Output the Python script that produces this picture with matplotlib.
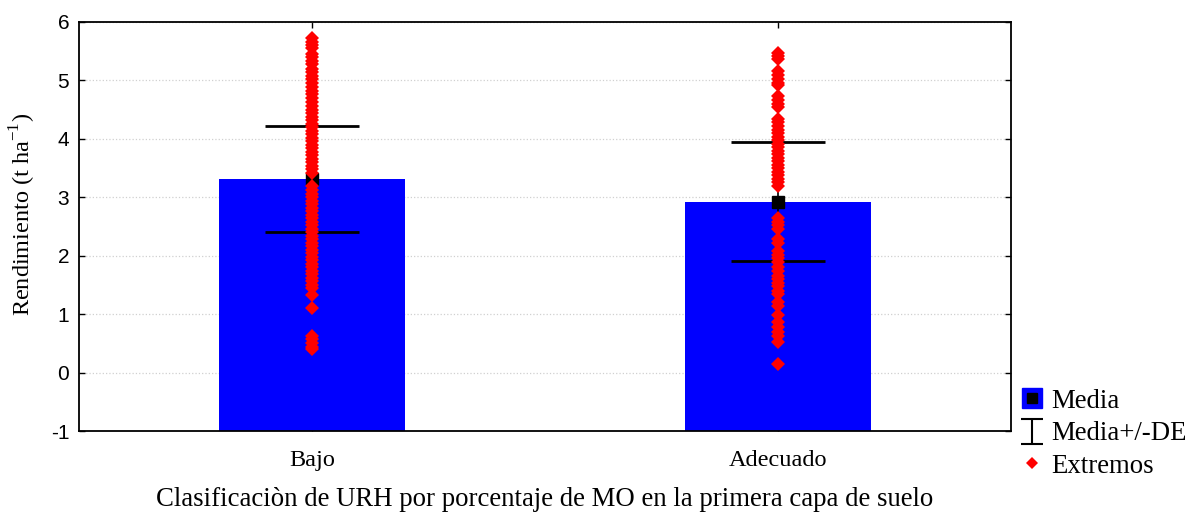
import matplotlib
matplotlib.use("Agg")
import matplotlib.pyplot as plt
from matplotlib.lines import Line2D
from matplotlib.path import Path

# Datos
categorias = ["Bajo", "Adecuado"]
medias = [3.31, 2.92]
de_sup = [4.22, 3.94]
de_inf = [2.41, 1.91]

bajo_extremos = [5.72, 5.66, 5.60, 5.55, 5.46, 5.40, 5.34, 5.28, 5.20, 5.14,
                 5.08, 5.02, 4.95, 4.89, 4.82, 4.76, 4.70, 4.63, 4.56, 4.50,
                 4.44, 4.38, 4.32, 4.26, 4.20, 4.14, 4.08, 4.02, 3.96, 3.90,
                 3.84, 3.78, 3.72, 3.66, 3.60, 3.54, 3.48, 3.42, 3.19, 3.12,
                 3.06, 3.00, 2.94, 2.88, 2.82, 2.76, 2.70, 2.64, 2.58, 2.52,
                 2.46, 2.40, 2.34, 2.28, 2.22, 2.16, 2.10, 2.04, 1.98, 1.92,
                 1.86, 1.80, 1.74, 1.68, 1.62, 1.56, 1.50, 1.44, 1.33, 1.11,
                 0.63, 0.57, 0.50, 0.44, 0.40]
adecuado_extremos = [5.47, 5.41, 5.36, 5.16, 5.10, 5.03, 4.96, 4.93, 4.73, 4.67,
                     4.60, 4.55, 4.34, 4.28, 4.22, 4.16, 4.10, 4.04, 3.98, 3.92,
                     3.86, 3.80, 3.74, 3.68, 3.62, 3.56, 3.50, 3.44, 3.38, 3.32,
                     3.26, 3.20, 2.65, 2.58, 2.52, 2.46, 2.28, 2.22, 2.08, 2.02,
                     1.96, 1.90, 1.80, 1.74, 1.66, 1.60, 1.54, 1.48, 1.40, 1.34,
                     1.20, 1.14, 0.99, 0.86, 0.78, 0.70, 0.63, 0.52, 0.15]
extremos = [bajo_extremos, adecuado_extremos]

serif = ["Liberation Serif", "DejaVu Serif"]
plt.rcParams["font.family"] = ["Liberation Sans", "DejaVu Sans"]
plt.rcParams["axes.unicode_minus"] = False

fig = plt.figure(figsize=(11.96, 5.15), dpi=100)
ax = fig.add_axes([0.066, 0.1631, 0.7793, 0.7942])

x = list(range(len(categorias)))
ymin = -1
ax.bar(x, [m - ymin for m in medias], bottom=ymin, width=0.40,
       color="#0000ff", zorder=2)

# media +/- DE
ax.vlines(x, de_inf, de_sup, color="black", lw=1.2, zorder=3)
ax.hlines(de_sup, [i - 0.1 for i in x], [i + 0.1 for i in x], color="black", lw=2, zorder=3)
ax.hlines(de_inf, [i - 0.1 for i in x], [i + 0.1 for i in x], color="black", lw=2, zorder=3)
ax.plot(x, medias, "s", color="black", markersize=8.6, zorder=4)

for i, vals in enumerate(extremos):
    ax.plot([i] * len(vals), vals, "D", color="#ff0000", markersize=7.5,
            markeredgewidth=0, zorder=5)

ax.set_xlim(-0.5, 1.5)
ax.set_ylim(-1, 6)
ax.set_xticks(x)
ax.set_xticklabels(categorias, fontsize=17.5, family=serif)
ax.set_yticks(range(-1, 7))
ax.tick_params(axis="y", labelsize=15, pad=7)
ax.tick_params(axis="x", pad=14)
ax.tick_params(direction="in", length=4, top=True, right=True, width=1)
ax.grid(axis="y", linestyle=":", color="#d0d0d0", linewidth=0.9)
ax.set_axisbelow(True)
for s in ax.spines.values():
    s.set_linewidth(1.3)

ax.set_ylabel("Rendimiento (t ha$^{\\mathregular{-1}}$)", fontsize=17.5, family=serif)
ax.yaxis.set_label_coords(-0.0434, 0.53)
ax.set_xlabel("Clasificaciòn de URH por porcentaje de MO en la primera capa de suelo",
              fontsize=19.3, family=serif, labelpad=11)

# leyenda
ibeam = Path([(-0.85, 1), (0.85, 1), (0, 1), (0, -1), (-0.85, -1), (0.85, -1)],
             [Path.MOVETO, Path.LINETO, Path.MOVETO, Path.LINETO, Path.MOVETO, Path.LINETO])
h_media = (Line2D([], [], marker="s", ls="none", markersize=15, color="#0000ff"),
           Line2D([], [], marker="s", ls="none", markersize=7, color="black"))
h_de = Line2D([], [], marker=ibeam, ls="none", markersize=18, markerfacecolor="none",
              markeredgecolor="black", markeredgewidth=1.5)
h_ext = Line2D([], [], marker="D", ls="none", markersize=6, color="#ff0000", markeredgewidth=0)
fig.legend([h_media, h_de, h_ext], ["Media", "Media+/-DE", "Extremos"],
           loc="lower left", bbox_to_anchor=(0.844, 0.05), frameon=False,
           prop={"family": serif, "size": 19.3}, handlelength=0.85, handletextpad=0.3,
           labelspacing=0.28, borderaxespad=0)

fig.savefig("out.png", dpi=100)
